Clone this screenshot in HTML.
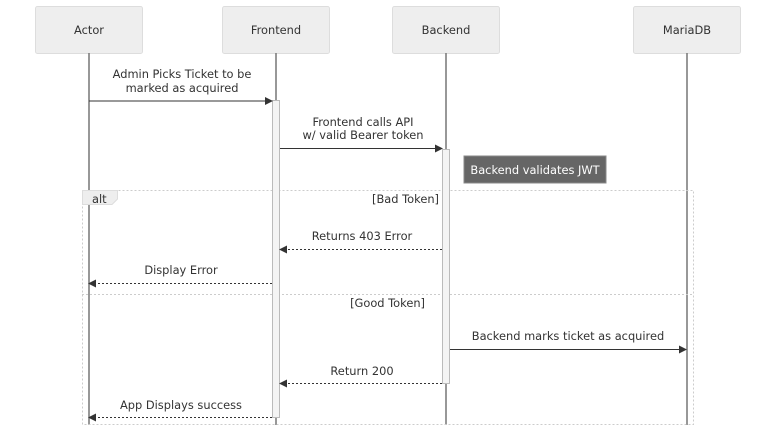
<!DOCTYPE html>
<html><head><meta charset="utf-8"><style>
html,body{margin:0;padding:0;background:#fff;}
svg{display:block;}
text{font-family:"DejaVu Sans","Liberation Sans",sans-serif;font-size:11.4px;fill:#333;}
</style></head><body>
<svg width="784" height="437" viewBox="0 0 784 437" xmlns="http://www.w3.org/2000/svg">
<defs>
<marker id="ah" markerWidth="8" markerHeight="8" refX="7" refY="4" orient="auto" markerUnits="userSpaceOnUse">
<path d="M0,0 L8,4 L0,8 z" fill="#333"/></marker>
</defs>
<g fill="#eee" stroke="#ddd" stroke-width="1">
<rect x="35.5" y="6.5" width="107" height="47" rx="2"/>
<rect x="222.5" y="6.5" width="107" height="47" rx="2"/>
<rect x="392.5" y="6.5" width="107" height="47" rx="2"/>
<rect x="633.5" y="6.5" width="107" height="47" rx="2"/>
</g>
<text x="89" y="34" text-anchor="middle">Actor</text>
<text x="276" y="34" text-anchor="middle">Frontend</text>
<text x="446" y="34" text-anchor="middle">Backend</text>
<text x="687" y="34" text-anchor="middle">MariaDB</text>
<g stroke="#777" stroke-width="1.5">
<line x1="89" y1="53" x2="89" y2="425"/>
<line x1="276" y1="53" x2="276" y2="425"/>
<line x1="446" y1="53" x2="446" y2="425"/>
<line x1="687" y1="53" x2="687" y2="425"/>
</g>
<rect x="82.5" y="190.5" width="611" height="234" fill="none" stroke="#ccc" stroke-dasharray="2,2"/>
<line x1="82" y1="294.5" x2="694" y2="294.5" stroke="#ccc" stroke-dasharray="2,2"/>
<path d="M82.5,190.5 H117.5 V199 L112,204.5 H82.5 Z" fill="#eee" stroke="#ddd"/>
<text x="92" y="203">alt</text>
<text x="439" y="203" text-anchor="end">[Bad Token]</text>
<text x="425" y="307" text-anchor="end">[Good Token]</text>
<rect x="272.5" y="100.5" width="7" height="317" fill="#f4f4f4" stroke="#bbb"/>
<rect x="442.5" y="149.5" width="7" height="234" fill="#f4f4f4" stroke="#bbb"/>
<rect x="464" y="156" width="142" height="27" fill="#666" stroke="#888"/>
<text x="535" y="174" text-anchor="middle" style="fill:#fff">Backend validates JWT</text>
<g stroke="#333" stroke-width="1" fill="none">
<line x1="89" y1="101" x2="272" y2="101" marker-end="url(#ah)"/>
<line x1="280" y1="148.5" x2="442" y2="148.5" marker-end="url(#ah)"/>
<line x1="442" y1="249.5" x2="280" y2="249.5" stroke-dasharray="2,2" marker-end="url(#ah)"/>
<line x1="272" y1="283.5" x2="89" y2="283.5" stroke-dasharray="2,2" marker-end="url(#ah)"/>
<line x1="450" y1="349.5" x2="686" y2="349.5" marker-end="url(#ah)"/>
<line x1="442" y1="383.5" x2="280" y2="383.5" stroke-dasharray="2,2" marker-end="url(#ah)"/>
<line x1="272" y1="417.5" x2="89" y2="417.5" stroke-dasharray="2,2" marker-end="url(#ah)"/>
</g>
<text x="182" y="78" text-anchor="middle">Admin Picks Ticket to be</text>
<text x="182" y="92" text-anchor="middle">marked as acquired</text>
<text x="363" y="126" text-anchor="middle">Frontend calls API</text>
<text x="363" y="139" text-anchor="middle">w/ valid Bearer token</text>
<text x="362" y="240" text-anchor="middle">Returns 403 Error</text>
<text x="181" y="274" text-anchor="middle">Display Error</text>
<text x="568" y="340" text-anchor="middle">Backend marks ticket as acquired</text>
<text x="362" y="375" text-anchor="middle">Return 200</text>
<text x="181" y="409" text-anchor="middle">App Displays success</text>
</svg>
</body></html>
